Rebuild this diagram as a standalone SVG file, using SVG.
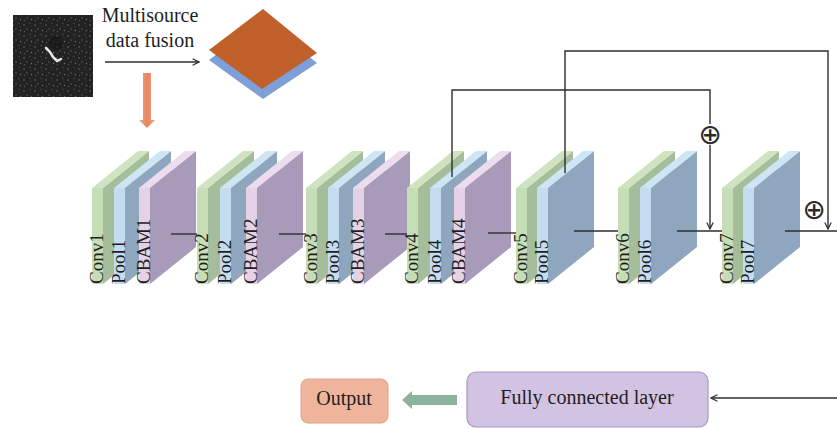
<svg xmlns="http://www.w3.org/2000/svg" xmlns:xlink="http://www.w3.org/1999/xlink" width="837" height="429" viewBox="0 0 837 429">
<style>
  .lbl { font-family: "Liberation Serif", "Times New Roman", serif; font-size: 19px; fill: #1e1e1e; }
  .txt { font-family: "Liberation Serif", "Times New Roman", serif; font-size: 20px; fill: #1e1e1e; }
  .plus { font-family: "DejaVu Sans", sans-serif; font-size: 28px; fill: #2a2a2a; }
  .ln { fill: none; stroke: #2e2e2e; stroke-width: 1.4; }
</style>
<defs>
  <marker id="chev" viewBox="0 0 10 10" refX="9" refY="5" markerWidth="8" markerHeight="8" orient="auto" markerUnits="userSpaceOnUse">
    <path d="M1,1 L9,5 L1,9" fill="none" stroke="#2e2e2e" stroke-width="1.5"/>
  </marker>
  <pattern id="noise" width="11" height="11" patternUnits="userSpaceOnUse">
    <rect width="11" height="11" fill="#222222"/>
    <circle cx="2" cy="3" r="0.8" fill="#6a6a6a"/>
    <circle cx="8" cy="1.5" r="0.7" fill="#505050"/>
    <circle cx="5" cy="7" r="0.9" fill="#484848"/>
    <circle cx="9.5" cy="8.5" r="0.7" fill="#777"/>
    <circle cx="2.5" cy="9.5" r="0.7" fill="#555"/>
    <circle cx="9" cy="4.5" r="0.6" fill="#3e3e3e"/>
  </pattern>
  <linearGradient id="salmon" x1="0" y1="0" x2="1" y2="0">
    <stop offset="0" stop-color="#f2a889"/>
    <stop offset="0.5" stop-color="#e8865f"/>
    <stop offset="1" stop-color="#f0a283"/>
  </linearGradient>
  <g id="conv">
    <polygon points="11,188 57,151 57,247 11,284" fill="#a6bd9b"/>
    <polygon points="0,188 11,188 57,151 46,151" fill="#cfe3c1"/>
    <rect x="0" y="188" width="11" height="96" fill="#c6deb6"/>
  </g>
  <g id="pool">
    <polygon points="11,188 57,151 57,247 11,284" fill="#8fa6bf"/>
    <polygon points="0,188 11,188 57,151 46,151" fill="#cde5f5"/>
    <rect x="0" y="188" width="11" height="96" fill="#c3dcef"/>
  </g>
  <g id="cbam">
    <polygon points="11,188 57,151 57,247 11,284" fill="#a79bb9"/>
    <polygon points="0,188 11,188 57,151 46,151" fill="#eddcee"/>
    <rect x="0" y="188" width="11" height="96" fill="#e6d2e6"/>
  </g>
</defs>
<rect width="837" height="429" fill="#ffffff"/>

<g id="input-image">
  <rect x="13" y="15" width="80" height="82" fill="url(#noise)"/>
  <circle cx="56" cy="43" r="7" fill="#151515" opacity="0.6"/>
  <polyline points="46,48 50,52 53,57 57,61 61,59" fill="none" stroke="#e8e8e8" stroke-width="2.5" stroke-linecap="round"/>
</g>

<g id="fusion-label">
  <text class="txt" x="150" y="22" text-anchor="middle">Multisource</text>
  <text class="txt" x="150" y="47" text-anchor="middle">data fusion</text>
</g>

<g id="fused-data">
  <polygon points="263,19 317,63 263,99 209,60" fill="#7f9fd8"/>
  <polygon points="263,9 317,53 262,89 209,50" fill="#c0612b"/>
</g>

<g id="conv1"><use xlink:href="#conv" href="#conv" x="92"/><text class="lbl" transform="translate(103,284) rotate(-90)">Conv1</text></g>
<g id="pool1"><use xlink:href="#pool" href="#pool" x="114"/><text class="lbl" transform="translate(125,284) rotate(-90)">Pool1</text></g>
<g id="cbam1"><use xlink:href="#cbam" href="#cbam" x="139"/><text class="lbl" transform="translate(150,284) rotate(-90)">CBAM1</text></g>

<g id="conv2"><use xlink:href="#conv" href="#conv" x="197"/><text class="lbl" transform="translate(208,284) rotate(-90)">Conv2</text></g>
<g id="pool2"><use xlink:href="#pool" href="#pool" x="220"/><text class="lbl" transform="translate(231,284) rotate(-90)">Pool2</text></g>
<g id="cbam2"><use xlink:href="#cbam" href="#cbam" x="246"/><text class="lbl" transform="translate(257,284) rotate(-90)">CBAM2</text></g>

<g id="conv3"><use xlink:href="#conv" href="#conv" x="306"/><text class="lbl" transform="translate(317,284) rotate(-90)">Conv3</text></g>
<g id="pool3"><use xlink:href="#pool" href="#pool" x="328"/><text class="lbl" transform="translate(339,284) rotate(-90)">Pool3</text></g>
<g id="cbam3"><use xlink:href="#cbam" href="#cbam" x="353"/><text class="lbl" transform="translate(364,284) rotate(-90)">CBAM3</text></g>

<g id="conv4"><use xlink:href="#conv" href="#conv" x="407"/><text class="lbl" transform="translate(418,284) rotate(-90)">Conv4</text></g>
<g id="pool4"><use xlink:href="#pool" href="#pool" x="430"/><text class="lbl" transform="translate(441,284) rotate(-90)">Pool4</text></g>
<g id="cbam4"><use xlink:href="#cbam" href="#cbam" x="454"/><text class="lbl" transform="translate(465,284) rotate(-90)">CBAM4</text></g>

<g id="conv5"><use xlink:href="#conv" href="#conv" x="516"/><text class="lbl" transform="translate(527,284) rotate(-90)">Conv5</text></g>
<g id="pool5"><use xlink:href="#pool" href="#pool" x="537"/><text class="lbl" transform="translate(548,284) rotate(-90)">Pool5</text></g>

<g id="conv6"><use xlink:href="#conv" href="#conv" x="618"/><text class="lbl" transform="translate(629,284) rotate(-90)">Conv6</text></g>
<g id="pool6"><use xlink:href="#pool" href="#pool" x="640"/><text class="lbl" transform="translate(651,284) rotate(-90)">Pool6</text></g>

<g id="conv7"><use xlink:href="#conv" href="#conv" x="722"/><text class="lbl" transform="translate(733,284) rotate(-90)">Conv7</text></g>
<g id="pool7"><use xlink:href="#pool" href="#pool" x="743"/><text class="lbl" transform="translate(754,284) rotate(-90)">Pool7</text></g>

<g id="add1"><text class="plus" x="710" y="144" text-anchor="middle">⊕</text></g>
<g id="add2"><text class="plus" x="814" y="219" text-anchor="middle">⊕</text></g>

<g id="output">
  <rect x="301" y="379" width="87" height="44" rx="7" fill="#efb59c" stroke="#e0a088" stroke-width="1"/>
  <text class="txt" x="344" y="405" text-anchor="middle">Output</text>
</g>
<g id="fc">
  <rect x="467" y="372" width="241" height="55" rx="9" fill="#d3c3e2" stroke="#a898c6" stroke-width="1.2"/>
  <text class="txt" x="587" y="404" text-anchor="middle">Fully connected layer</text>
</g>

<g id="connectors">
  <line class="ln" x1="105" y1="62" x2="199" y2="62" marker-end="url(#chev)"/>
  <polygon points="143,73 151,73 151,120 155,120 147,128 139,120 143,120" fill="url(#salmon)"/>
  <line class="ln" x1="171" y1="234" x2="197" y2="234"/>
  <line class="ln" x1="279" y1="234" x2="306" y2="234"/>
  <line class="ln" x1="385" y1="234" x2="407" y2="234"/>
  <line class="ln" x1="488" y1="233" x2="516" y2="233"/>
  <line class="ln" x1="574" y1="231" x2="618" y2="231"/>
  <line class="ln" x1="677" y1="231" x2="722" y2="231"/>
  <line class="ln" x1="785" y1="231" x2="837" y2="231"/>
  <polyline class="ln" points="452,177 452,90 710,90 710,124"/>
  <line class="ln" x1="710" y1="145" x2="710" y2="229" marker-end="url(#chev)"/>
  <polyline class="ln" points="565,173 565,51 828,51 828,229" marker-end="url(#chev)"/>
  <line class="ln" x1="837" y1="398" x2="711" y2="398" marker-end="url(#chev)"/>
  <polygon points="457,395 412,395 412,391 402,400 412,409 412,405 457,405" fill="#8fb29c"/>
</g>
</svg>
